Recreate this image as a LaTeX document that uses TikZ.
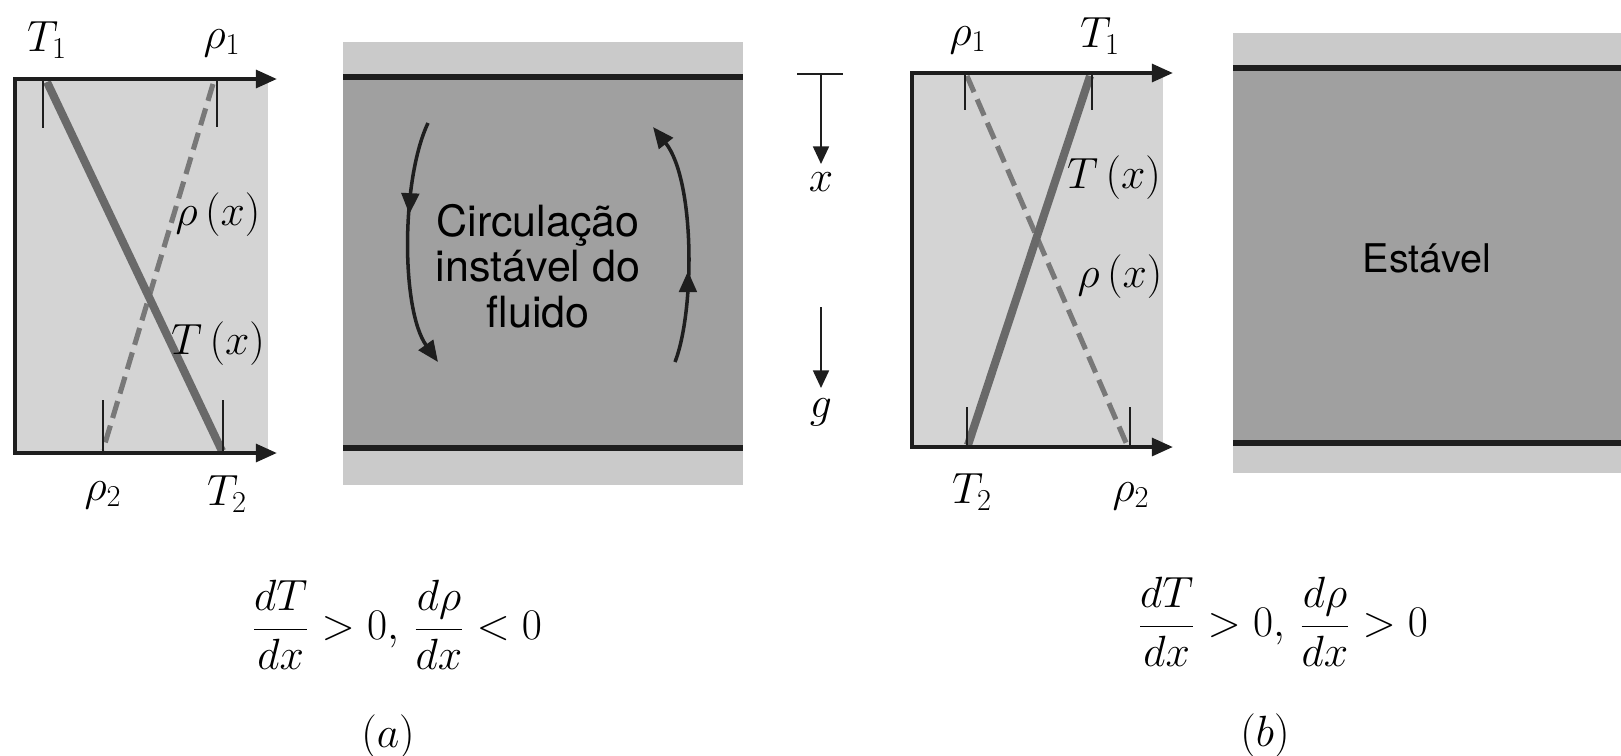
\documentclass[tikz,border=0pt]{standalone}
\usepackage{fontspec}
\newfontfamily\hvfont{TeX Gyre Heros}
\usetikzlibrary{arrows.meta,decorations.markings}
\definecolor{plotbg}{RGB}{212,212,212}
\definecolor{fluidgray}{RGB}{160,160,160}
\definecolor{stripgray}{RGB}{202,202,202}
\definecolor{tgray}{RGB}{105,105,105}
\definecolor{rgray}{RGB}{120,120,120}
\definecolor{ink}{RGB}{30,30,30}
\tikzset{
  axisline/.style={line width=2.4pt, draw=ink, line join=miter,
    {Triangle[length=12pt,width=10pt]}-{Triangle[length=12pt,width=10pt]}},
  tickline/.style={line width=1.1pt, draw=ink},
  tcurve/.style={line width=4.6pt, draw=tgray},
  rcurve/.style={line width=2.9pt, draw=rgray, dash pattern=on 10pt off 4.5pt},
  lab/.style={font=\fontsize{27}{32}\selectfont, inner sep=0pt},
  wall/.style={line width=2.9pt, draw=ink},
  circarrow/.style={line width=2pt, draw=ink, -{Triangle[length=12pt,width=10pt]},
    postaction={decorate, decoration={markings,
      mark=at position 0.38 with {\arrow{Triangle[length=12pt,width=10pt]}}}}},
  downarrow/.style={line width=1.3pt, draw=ink, -{Triangle[length=10pt,width=9pt]}},
  fluidtxt/.style={font=\hvfont\fontsize{24.5}{26}\selectfont, align=center, inner sep=0pt},
  formula/.style={font=\fontsize{27}{30}\selectfont, inner sep=0pt}
}
\begin{document}
\begin{tikzpicture}[x=0.02cm,y=-0.02cm]
\useasboundingbox (0,0) rectangle (1621,755);

% ---------- panel (a): profile plot ----------
\fill[plotbg] (15,79) rectangle (268,453);
\draw[rcurve] (213,84) -- (103,450);
\draw[tcurve] (47,82) -- (222,451);
\draw[tickline] (43,79) -- (43,128);
\draw[tickline] (217,79) -- (217,127);
\draw[tickline] (103,400) -- (103,453);
\draw[tickline] (223,400) -- (223,453);
\draw[axisline] (277,79) -- (15,79) -- (15,453) -- (277,453);
\node[lab] (T1a) at (47,40) {$T_1$};
\node[lab] (r1a) at (222,43) {$\rho_1$};
\node[lab] (rxa) at (218,215) {$\rho\,(x)$};
\node[lab] (Txa) at (218,344) {$T\,(x)$};
\node[lab] (r2a) at (103,495) {$\rho_2$};
\node[lab] (T2a) at (227,494) {$T_2$};

% ---------- panel (a): fluid layer ----------
\fill[stripgray] (343,42) rectangle (743,485);
\fill[fluidgray] (343,77) rectangle (743,448);
\draw[wall] (343,77) -- (743,77);
\draw[wall] (343,448) -- (743,448);
\node[fluidtxt] (circ) at (538,266) {Circulação\\instável do\\fluido};
\coordinate (la) at (428,123);
\coordinate (lb) at (438,362);
\coordinate (ra) at (675,362);
\coordinate (rb) at (653,127);
\draw[circarrow] (la) .. controls (401,180) and (401,310) .. (lb);
\draw[circarrow] (ra) .. controls (695,310) and (695,180) .. (rb);

% ---------- middle: x and g ----------
\coordinate (xtop) at (821,74);
\draw[line width=1.5pt, draw=ink] (797,74) -- (843,74);
\node[lab] (xl) at (821,182) {$x$};
\draw[downarrow] (xtop) -- (821,164);
\coordinate (gtop) at (821,307);
\node[lab] (gl) at (821,412) {$g$};
\draw[downarrow] (gtop) -- (821,388);

% ---------- panel (b): profile plot ----------
\fill[plotbg] (912,73) rectangle (1163,447);
\draw[rcurve] (967,76) -- (1127,445);
\draw[tcurve] (1090,76) -- (968,445);
\draw[tickline] (965,73) -- (965,110);
\draw[tickline] (1092,73) -- (1092,110);
\draw[tickline] (967,407) -- (967,447);
\draw[tickline] (1130,407) -- (1130,447);
\draw[axisline] (1173,73) -- (912,73) -- (912,447) -- (1173,447);
\node[lab] (r1b) at (968,40) {$\rho_1$};
\node[lab] (T1b) at (1100,36) {$T_1$};
\node[lab] (Txb) at (1114,178) {$T\,(x)$};
\node[lab] (rxb) at (1120,277) {$\rho\,(x)$};
\node[lab] (T2b) at (972,492) {$T_2$};
\node[lab] (r2b) at (1131,496) {$\rho_2$};

% ---------- panel (b): fluid layer ----------
\fill[stripgray] (1233,33) rectangle (1621,473);
\fill[fluidgray] (1233,68) rectangle (1621,443);
\draw[wall] (1233,68) -- (1621,68);
\draw[wall] (1233,443) -- (1621,443);
\node[fluidtxt, font=\hvfont\fontsize{22.5}{26}\selectfont] (est) at (1427,258) {Estável};

% ---------- conditions and captions ----------
\node[formula] (fa) at (397,625) {$\displaystyle\frac{dT}{dx} > 0,\, \frac{d\rho}{dx} < 0$};
\node[formula] (fb) at (1283,622) {$\displaystyle\frac{dT}{dx} > 0,\, \frac{d\rho}{dx} > 0$};
\node[formula] (ca) at (388,737) {$(a)$};
\node[formula] (cb) at (1265,736) {$(b)$};
\end{tikzpicture}
\end{document}
